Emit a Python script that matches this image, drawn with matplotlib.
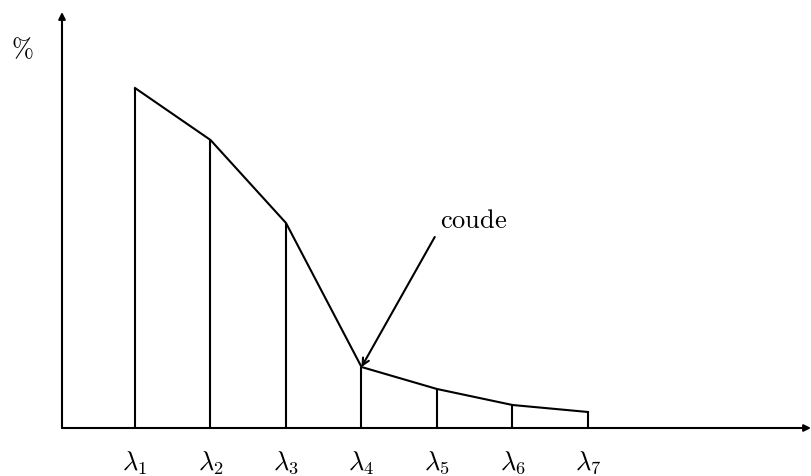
import numpy as np
import matplotlib.pyplot as plt

plt.rcParams['mathtext.fontset'] = 'cm'

# valeurs propres (en %)
positions = [1, 2, 3, 4, 5, 6, 7]
valeurs = [34.0, 28.8, 20.5, 6.1, 3.9, 2.3, 1.6]
etiquettes = [r'$\lambda_{%d}$' % i for i in positions]

W, H = 811, 476
fig = plt.figure(figsize=(W / 100, H / 100), dpi=100)
# origine des axes en pixels: (62, 428)
ax = fig.add_axes([62 / W, (H - 428) / H, (W - 62) / W, (428 - 12) / H])
ax.set_xlim(1 - 73 / 75.5, 1 - 73 / 75.5 + (W - 62) / 75.5)
ax.set_ylim(0, 41.6)
ax.axis('off')

lw = 1.5
# axes avec flèches
ax.annotate('', xy=(1.0, 0), xytext=(0, 0), xycoords='axes fraction',
            arrowprops=dict(arrowstyle='-|>', lw=lw, color='black', mutation_scale=10,
                            shrinkA=0, shrinkB=0))
ax.annotate('', xy=(0, 1.0), xytext=(0, 0), xycoords='axes fraction',
            arrowprops=dict(arrowstyle='-|>', lw=lw, color='black', mutation_scale=10,
                            shrinkA=0, shrinkB=0))

# barres verticales et courbe
ax.vlines(positions, 0, valeurs, colors='black', lw=lw)
ax.plot(positions, valeurs, color='black', lw=lw, solid_joinstyle='miter')

# étiquettes
for p, lab in zip(positions, etiquettes):
    ax.text(p, -3.5, lab, ha='center', va='center', fontsize=19)
fig.text(22 / W, 1 - 50 / H, r'$\%$', ha='center', va='center', fontsize=19)

# coude
ax.text(5.49, 20.7, r'$\mathrm{coude}$', ha='center', va='center', fontsize=19)
ax.annotate('', xy=(positions[3], valeurs[3]), xytext=(4.97, 19.1),
            arrowprops=dict(arrowstyle='->', lw=lw, color='black', shrinkA=0, shrinkB=0,
                            mutation_scale=12))

fig.savefig('out.png', dpi=100)
